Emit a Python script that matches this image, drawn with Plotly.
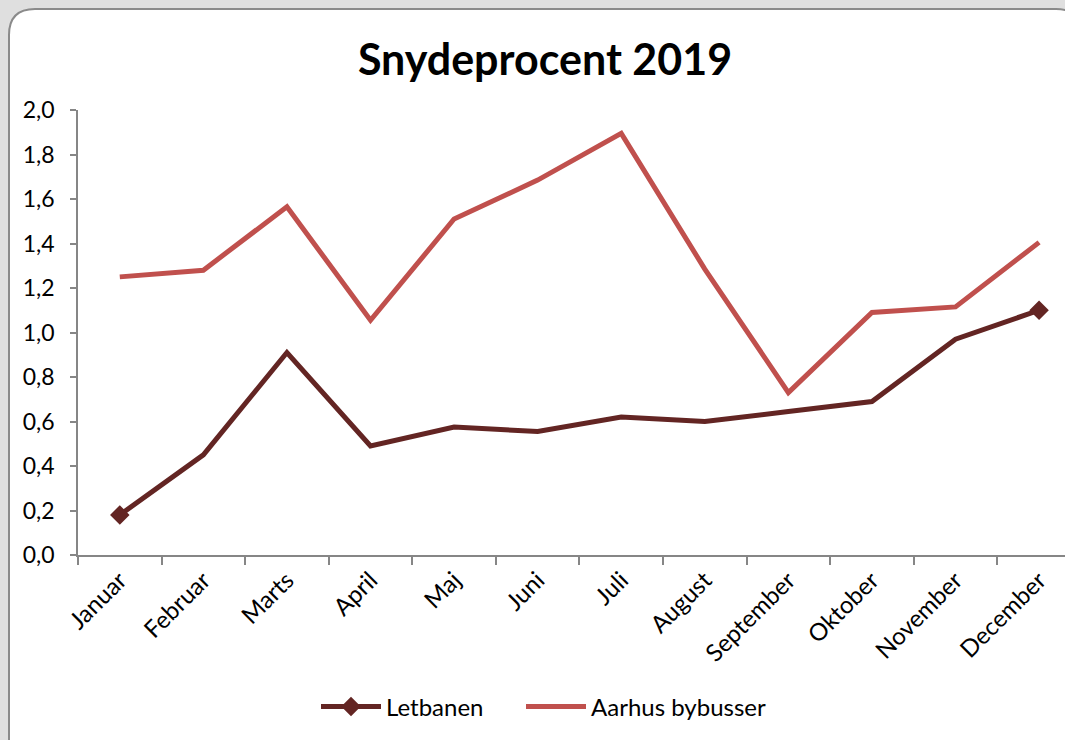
import plotly.graph_objects as go

months = ["Januar", "Februar", "Marts", "April", "Maj", "Juni", "Juli",
          "August", "September", "Oktober", "November", "December"]
letbanen = [0.18, 0.45, 0.91, 0.49, 0.575, 0.555, 0.62, 0.60, 0.645, 0.69, 0.97, 1.10]
aarhus = [1.25, 1.28, 1.565, 1.055, 1.51, 1.685, 1.895, 1.285, 0.73, 1.09, 1.115, 1.405]
yticks = [0.0, 0.2, 0.4, 0.6, 0.8, 1.0, 1.2, 1.4, 1.6, 1.8, 2.0]

W, H = 1065, 740
FONT = "Lato, 'Open Sans', sans-serif"
DARK = "#632523"
RED = "#C0504D"

def px(x):
    return x / W

def py(y):
    return 1 - y / H

# rounded panel (chart area) path in paper coords
L, T, R, B, r = 9, 9, 1082, 765, 26
path = (f"M {px(L + r)},{py(T)} L {px(R - r)},{py(T)} "
        f"Q {px(R)},{py(T)} {px(R)},{py(T + r)} L {px(R)},{py(B - r)} "
        f"Q {px(R)},{py(B)} {px(R - r)},{py(B)} L {px(L + r)},{py(B)} "
        f"Q {px(L)},{py(B)} {px(L)},{py(B - r)} L {px(L)},{py(T + r)} "
        f"Q {px(L)},{py(T)} {px(L + r)},{py(T)} Z")

mcolors = [DARK] + ["rgba(0,0,0,0)"] * (len(months) - 2) + [DARK]

fig = go.Figure()
fig.add_trace(go.Scatter(
    x=months, y=letbanen, name="Letbanen", mode="lines+markers",
    line=dict(color=DARK, width=5), legend="legend", showlegend=True,
    marker=dict(symbol="diamond", size=15, color=mcolors, opacity=1,
                line=dict(width=0)),
))
fig.add_trace(go.Scatter(
    x=months, y=aarhus, name="Aarhus bybusser", mode="lines",
    line=dict(color=RED, width=5), legend="legend2", showlegend=True,
))

leg_common = dict(orientation="h", y=py(707), xanchor="left", yanchor="middle",
                  font=dict(family=FONT, size=24), bgcolor="rgba(0,0,0,0)",
                  itemwidth=60, visible=True)

fig.update_layout(
    width=W, height=H,
    margin=dict(l=0, r=0, t=0, b=0),
    paper_bgcolor="#dfdfdf",
    plot_bgcolor="white",
    separators=",.",
    showlegend=True,
    font=dict(family=FONT, size=24, color="black"),
    title=dict(text="<b>Snydeprocent 2019</b>", x=px(545), y=py(60),
               xanchor="center", yanchor="middle", xref="paper", yref="paper",
               font=dict(family=FONT, size=43, color="black")),
    shapes=[dict(type="path", path=path, xref="paper", yref="paper",
                 fillcolor="white", line=dict(color="#8a8a8a", width=2),
                 layer="below")],
    xaxis=dict(domain=[px(78), 1], range=[-0.5, 11.31],
               showline=True, linecolor="#868686", linewidth=1.5,
               ticks="outside", tickson="boundaries", ticklen=8,
               tickcolor="#868686", tickwidth=1.5,
               tickangle=-45, showgrid=False, zeroline=False,
               tickfont=dict(family=FONT, size=24), automargin=False),
    yaxis=dict(domain=[py(555), py(110)], range=[0, 2],
               tickvals=yticks, tickformat=".1f",
               showline=True, linecolor="#868686", linewidth=1.5,
               ticks="outside", ticklen=6, tickcolor="#868686", tickwidth=1.5,
               ticklabelstandoff=11,
               showgrid=False, zeroline=False,
               tickfont=dict(family=FONT, size=23), automargin=False),
    legend=dict(x=px(316), **leg_common),
    legend2=dict(x=px(521), **leg_common),
)

fig.write_html("out.html", config={"displayModeBar": False},
               post_script="document.body.style.margin='0';")
